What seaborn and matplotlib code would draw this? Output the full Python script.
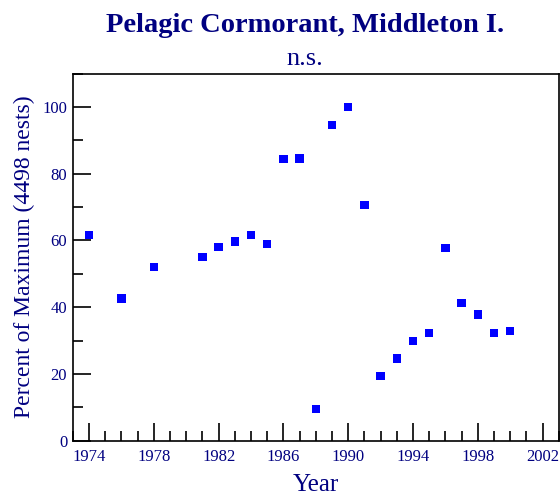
import pandas as pd
import matplotlib.pyplot as plt
import seaborn as sns
from matplotlib.ticker import MultipleLocator

# Datos
years = [1974, 1976, 1978, 1981, 1982, 1983, 1984, 1985, 1986, 1987, 1988,
         1989, 1990, 1991, 1992, 1993, 1994, 1995, 1996, 1997, 1998, 1999, 2000]
percent = [61.6, 42.6, 52.0, 55.0, 58.1, 59.7, 61.6, 58.9, 84.3, 84.5, 9.5,
           94.5, 100.0, 70.6, 19.3, 24.6, 29.9, 32.3, 57.8, 41.3, 37.8, 32.2, 32.9]
x_ticks = [1974, 1978, 1982, 1986, 1990, 1994, 1998, 2002]
y_ticks = [0, 20, 40, 60, 80, 100]

navy = '#000080'

sns.set_theme(style='white')
plt.rcParams['font.family'] = ['Liberation Serif', 'DejaVu Serif']

df = pd.DataFrame({'Year': years, 'Percent': percent})

fig = plt.figure(figsize=(5.6, 4.97), dpi=100)
ax = fig.add_axes([0.130, 0.1133, 0.868, 0.7387])

sns.scatterplot(data=df, x='Year', y='Percent', marker='s', s=36,
                color='#0000ff', edgecolor='none', ax=ax, legend=False)

ax.set_xlim(1973, 2003)
ax.set_ylim(0, 110)
ax.set_xticks(x_ticks)
ax.set_yticks(y_ticks)
ax.xaxis.set_minor_locator(MultipleLocator(1))
ax.yaxis.set_minor_locator(MultipleLocator(10))
ax.tick_params(axis='both', which='major', direction='in', length=13, width=1.2,
               color='black', labelcolor=navy, labelsize=12,
               bottom=True, left=True, top=False, right=False)
ax.tick_params(axis='both', which='minor', direction='in', length=7, width=1.2,
               color='black', bottom=True, left=True, top=False, right=False)
ax.tick_params(axis='x', which='major', pad=6)
ax.tick_params(axis='y', which='major', pad=4)

for sp in ax.spines.values():
    sp.set_color('black')
    sp.set_linewidth(1.2)

ax.set_xlabel('Year', color=navy, fontsize=18, labelpad=6.5)
ax.set_ylabel('Percent of Maximum (4498 nests)', color=navy, fontsize=17, labelpad=5)

fig.text(0.545, 0.949, 'Pelagic Cormorant, Middleton I.', ha='center', va='center',
         color=navy, fontsize=20.5, fontweight='bold')
fig.text(0.545, 0.882, 'n.s.', ha='center', va='center', color=navy, fontsize=19)

fig.savefig('out.png', dpi=100)
plt.close(fig)
